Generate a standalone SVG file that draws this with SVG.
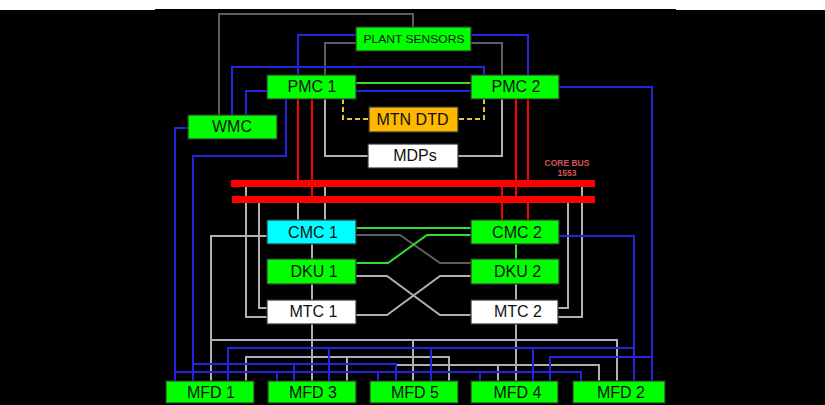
<svg xmlns="http://www.w3.org/2000/svg" width="825" height="405" viewBox="0 0 825 405">
<style>
.bx{stroke:#333;stroke-width:1.2}
.g{fill:#00FF00}.c{fill:#00FFFF}.w{fill:#FFFFFF}.o{fill:#FFB800}
.t{font-family:"Liberation Sans",Arial,sans-serif;font-size:16px;fill:#111;text-anchor:middle}
.ts{font-family:"Liberation Sans",Arial,sans-serif;font-size:11.5px;fill:#111;text-anchor:middle}
.cb{font-family:"Liberation Sans",Arial,sans-serif;font-size:8.5px;font-weight:bold;fill:#D85555;text-anchor:middle}
.l{fill:none;stroke-width:2}
.bl{stroke:#2323E0}.gy{stroke:#B0B0B0}.dg{stroke:#5E5E5E}.rd{stroke:#FF0000}.gr{stroke:#33DD33}
.ds{stroke:#E8C040;stroke-dasharray:5,3}
</style>
<rect x="0" y="0" width="825" height="405" fill="#FFFFFF"/>
<rect x="0" y="10" width="825" height="395" fill="#000"/>
<rect x="155" y="9" width="521" height="1" fill="#000"/>
<g id="connectors">
<path class="l dg" d="M219,115V14H413V27M356,43H325V75M471,43H502V75M356,235H400L440,263H471"/>
<path class="l gy" d="M325,99V156H368M502,99V156H458M325,187V220M298,203V220M246,187V317H267M259,203V308H267M582,187V317H558M568,203V308H558M312,244V259M312,284V300M516,284V300M356,276H387L440,315H471M356,315H387L440,276H471M267,236H211V381M211,340H617V381M413,340V381M312,324V381M516,324V381M246,381V357H449V381M347,357V381M396,365H599V381M498,365V381"/>
<path class="l bl" d="M356,35H298V75M471,35H528V75M232,115V67H484V75M267,91H246V115M356,91H471M559,87H652V381M652,357H550V381M559,236H634V381M634,348H228V381M329,348V381M431,348V381M533,348V381M188,128H175V381M175,372H581V381M277,372V381M378,372V381M480,372V381M286,99V156H193V381M193,364H396V381M294,364V381"/>
<path class="l gr" d="M356,83H471M356,228H471M356,263H388L427,235H471M516,244V259"/>
<path class="l rd" d="M298,99V180M312,99V196M516,99V196M528,99V180M502,187V220M528,203V220"/>
<path class="l ds" d="M343,99V119H369M484,99V119H458"/>
</g>
<g id="core-bus">
<rect x="231" y="180" width="364" height="7" fill="#FF0000"/>
<rect x="232" y="196" width="363" height="7" fill="#FF0000"/>
<text class="cb" x="567" y="166">CORE BUS</text>
<text class="cb" x="567" y="175.5">1553</text>
</g>
<g id="plant-sensors"><rect class="bx g" x="356" y="27" width="115" height="24"/><text class="ts" x="414" y="43.3" textLength="101" lengthAdjust="spacingAndGlyphs">PLANT SENSORS</text></g>
<g id="pmc1"><rect class="bx g" x="267" y="75" width="89" height="24"/><text class="t" x="312" y="92.3">PMC 1</text></g>
<g id="pmc2"><rect class="bx g" x="471" y="75" width="88" height="24"/><text class="t" x="516" y="92.3">PMC 2</text></g>
<g id="wmc"><rect class="bx g" x="188" y="115" width="89" height="24"/><text class="t" x="232" y="132.3">WMC</text></g>
<g id="mtn-dtd"><rect class="bx o" x="369" y="107" width="89" height="25"/><text class="t" x="412.5" y="125.3">MTN DTD</text></g>
<g id="mdps"><rect class="bx w" x="368" y="144" width="90" height="24"/><text class="t" x="415" y="161.3">MDPs</text></g>
<g id="cmc1"><rect class="bx c" x="267" y="220" width="89" height="24"/><text class="t" x="313" y="237.5">CMC 1</text></g>
<g id="cmc2"><rect class="bx g" x="471" y="220" width="88" height="24"/><text class="t" x="517" y="237.5">CMC 2</text></g>
<g id="dku1"><rect class="bx g" x="267" y="259" width="89" height="25"/><text class="t" x="314" y="277">DKU 1</text></g>
<g id="dku2"><rect class="bx g" x="471" y="259" width="88" height="25"/><text class="t" x="517.5" y="277">DKU 2</text></g>
<g id="mtc1"><rect class="bx w" x="267" y="300" width="89" height="24"/><text class="t" x="313.5" y="316.5">MTC 1</text></g>
<g id="mtc2"><rect class="bx w" x="471" y="300" width="87" height="24"/><text class="t" x="518" y="316.5">MTC 2</text></g>
<g id="mfd1"><rect class="bx g" x="166" y="381" width="88" height="22"/><text class="t" x="211" y="398">MFD 1</text></g>
<g id="mfd3"><rect class="bx g" x="268" y="381" width="88" height="22"/><text class="t" x="313" y="398">MFD 3</text></g>
<g id="mfd5"><rect class="bx g" x="370" y="381" width="88" height="22"/><text class="t" x="415" y="398">MFD 5</text></g>
<g id="mfd4"><rect class="bx g" x="471" y="381" width="87" height="22"/><text class="t" x="517.5" y="398">MFD 4</text></g>
<g id="mfd2"><rect class="bx g" x="573" y="381" width="92" height="22"/><text class="t" x="621" y="398">MFD 2</text></g>
</svg>
